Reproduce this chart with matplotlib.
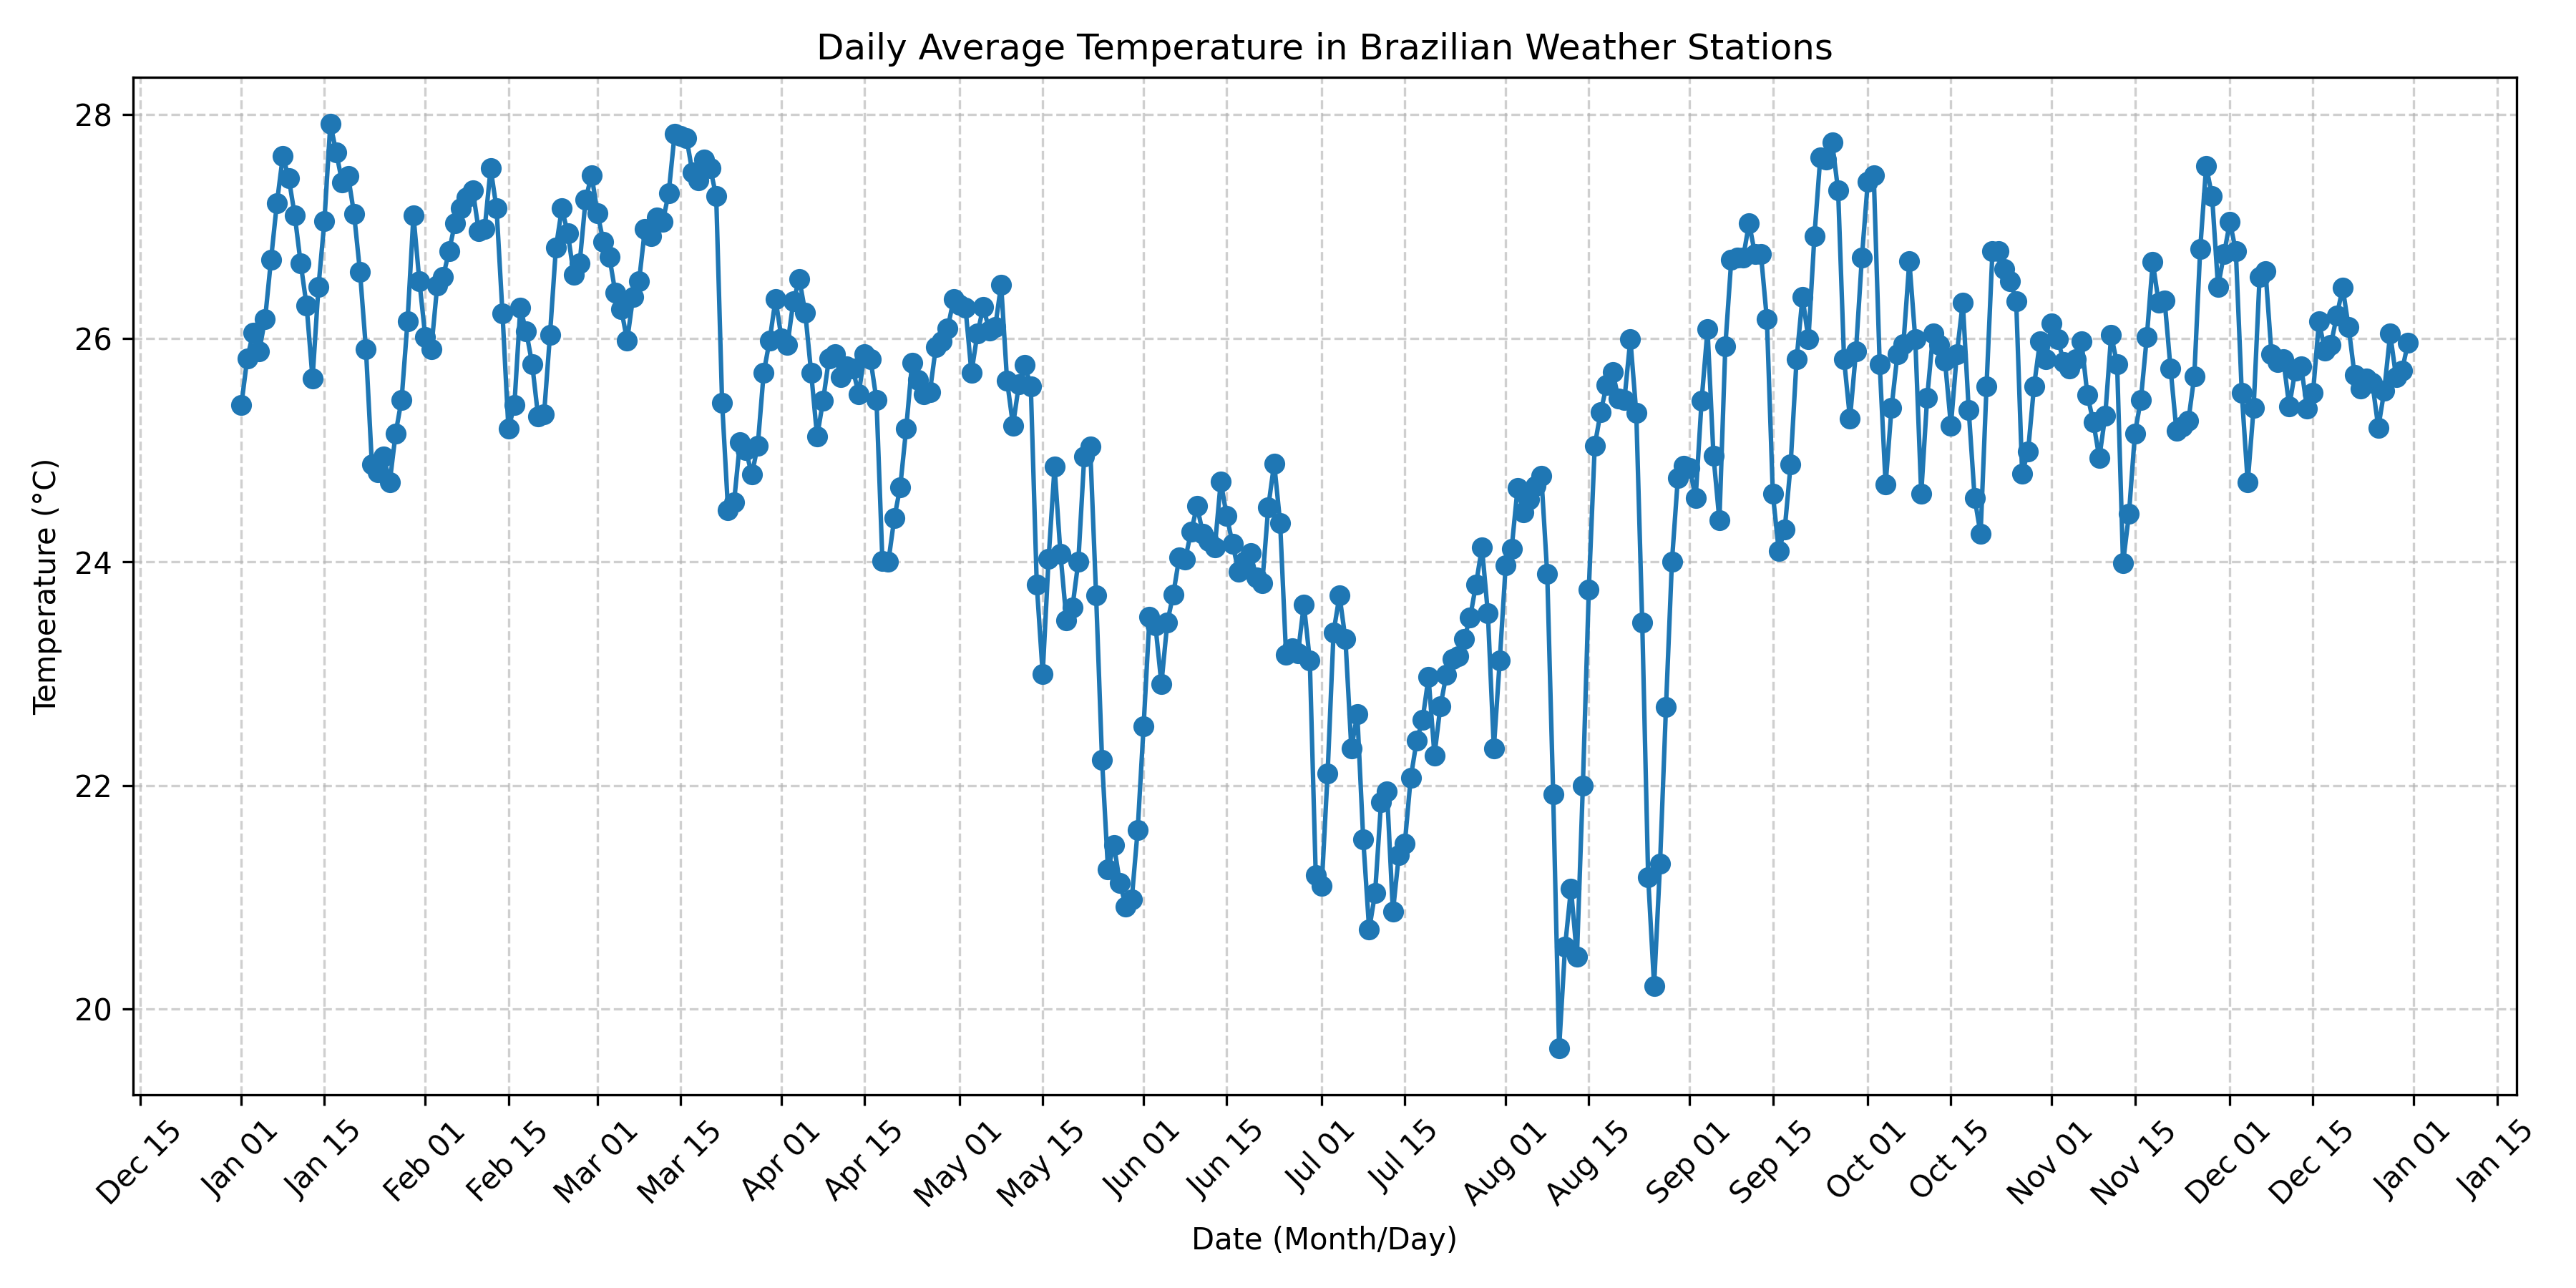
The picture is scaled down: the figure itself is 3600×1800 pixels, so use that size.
import matplotlib
matplotlib.use("Agg")
import matplotlib.pyplot as plt
import matplotlib.dates as mdates
import pandas as pd
import numpy as np

year = 2020
jan = [25.40, 25.82, 26.05, 25.88, 26.17, 26.70, 27.21, 27.63, 27.43, 27.10, 26.67, 26.29, 25.64, 26.46, 27.05, 27.92,
       27.66, 27.39, 27.45, 27.11, 26.59, 25.90, 24.87, 24.80, 24.94, 24.71, 25.15, 25.45, 26.15, 27.10, 26.51]
feb = [26.01, 25.90, 26.47, 26.55, 26.78, 27.03, 27.16, 27.26, 27.32, 26.96, 26.98, 27.52, 27.16, 26.22, 25.19, 25.40,
       26.27, 26.06, 25.77, 25.30, 25.32, 26.03, 26.81, 27.16, 26.94, 26.57, 26.67, 27.24, 27.46]
mar = [27.12, 26.86, 26.73, 26.41, 26.26, 25.98, 26.37, 26.51, 26.98, 26.91, 27.08, 27.04, 27.30, 27.83, 27.81, 27.79,
       27.48, 27.41, 27.60, 27.52, 27.27, 25.42, 24.46, 24.53, 25.07, 25.00, 24.78, 25.04, 25.69, 25.98, 26.35]
apr = [26.00, 25.94, 26.33, 26.53, 26.23, 25.69, 25.12, 25.44, 25.82, 25.86, 25.65, 25.75, 25.73, 25.50, 25.86, 25.81,
       25.45, 24.01, 24.00, 24.39, 24.67, 25.19, 25.78, 25.63, 25.50, 25.52, 25.92, 25.97, 26.09, 26.35]
may = [26.30, 26.27, 25.69, 26.04, 26.28, 26.07, 26.10, 26.48, 25.62, 25.22, 25.59, 25.76, 25.57, 23.80, 23.00, 24.03,
       24.85, 24.07, 23.48, 23.59, 24.00, 24.94, 25.03, 23.70, 22.23, 21.25, 21.47, 21.13, 20.92, 20.98, 21.60]
jun = [22.53, 23.51, 23.43, 22.91, 23.46, 23.71, 24.04, 24.02, 24.27, 24.50, 24.25, 24.19, 24.13, 24.72, 24.41, 24.16,
       23.91, 24.00, 24.08, 23.86, 23.81, 24.49, 24.88, 24.35, 23.17, 23.23, 23.18, 23.62, 23.12, 21.20]
jul = [21.10, 22.11, 23.37, 23.70, 23.31, 22.33, 22.64, 21.52, 20.71, 21.04, 21.85, 21.95, 20.87, 21.38, 21.48, 22.07,
       22.40, 22.59, 22.97, 22.27, 22.71, 22.99, 23.13, 23.16, 23.31, 23.50, 23.80, 24.13, 23.54, 22.33, 23.12]
aug = [23.97, 24.12, 24.66, 24.44, 24.56, 24.68, 24.77, 23.89, 21.92, 19.65, 20.56, 21.08, 20.47, 22.00, 23.75, 25.04,
       25.34, 25.58, 25.70, 25.46, 25.45, 25.99, 25.33, 23.46, 21.18, 20.21, 21.30, 22.70, 24.00, 24.75, 24.86]
sep = [24.84, 24.57, 25.44, 26.08, 24.95, 24.37, 25.93, 26.70, 26.72, 26.72, 27.03, 26.75, 26.75, 26.17, 24.61, 24.10,
       24.29, 24.87, 25.81, 26.37, 25.99, 26.91, 27.62, 27.60, 27.75, 27.32, 25.81, 25.28, 25.88, 26.72]
oct_ = [27.40, 27.46, 25.77, 24.69, 25.38, 25.86, 25.95, 26.69, 25.99, 24.61, 25.47, 26.04, 25.94, 25.80, 25.22, 25.86,
        26.32, 25.36, 24.57, 24.25, 25.57, 26.78, 26.78, 26.62, 26.51, 26.33, 24.79, 24.99, 25.57, 25.97, 25.81]
nov = [26.13, 25.99, 25.79, 25.73, 25.81, 25.97, 25.49, 25.25, 24.93, 25.31, 26.03, 25.77, 23.99, 24.43, 25.15, 25.45,
       26.01, 26.68, 26.32, 26.34, 25.73, 25.17, 25.21, 25.26, 25.66, 26.80, 27.54, 27.27, 26.46, 26.75]
dec = [27.04, 26.78, 25.51, 24.71, 25.38, 26.55, 26.60, 25.86, 25.79, 25.81, 25.39, 25.71, 25.75, 25.37, 25.51, 26.15,
       25.89, 25.94, 26.20, 26.45, 26.10, 25.67, 25.55, 25.64, 25.60, 25.20, 25.53, 26.04, 25.65, 25.71, 25.96]

temps = jan + feb + mar + apr + may + jun + jul + aug + sep + oct_ + nov + dec
dates = pd.date_range(f"{year}-01-01", periods=len(temps), freq="D")

fig, ax = plt.subplots(figsize=(12, 6), dpi=300)
ax.plot(dates, temps, marker="o", linestyle="-", color="#1f77b4", markersize=6, linewidth=1.5)
ax.set_title("Daily Average Temperature in Brazilian Weather Stations")
ax.set_xlabel("Date (Month/Day)")
ax.set_ylabel("Temperature (°C)")
ax.xaxis.set_major_locator(mdates.MonthLocator(bymonthday=(1, 15)))
ax.xaxis.set_major_formatter(mdates.DateFormatter("%b %d"))
plt.setp(ax.get_xticklabels(), rotation=45)
ax.grid(True, linestyle="--", alpha=0.6)
fig.tight_layout()
fig.savefig("out.png", dpi=300)
